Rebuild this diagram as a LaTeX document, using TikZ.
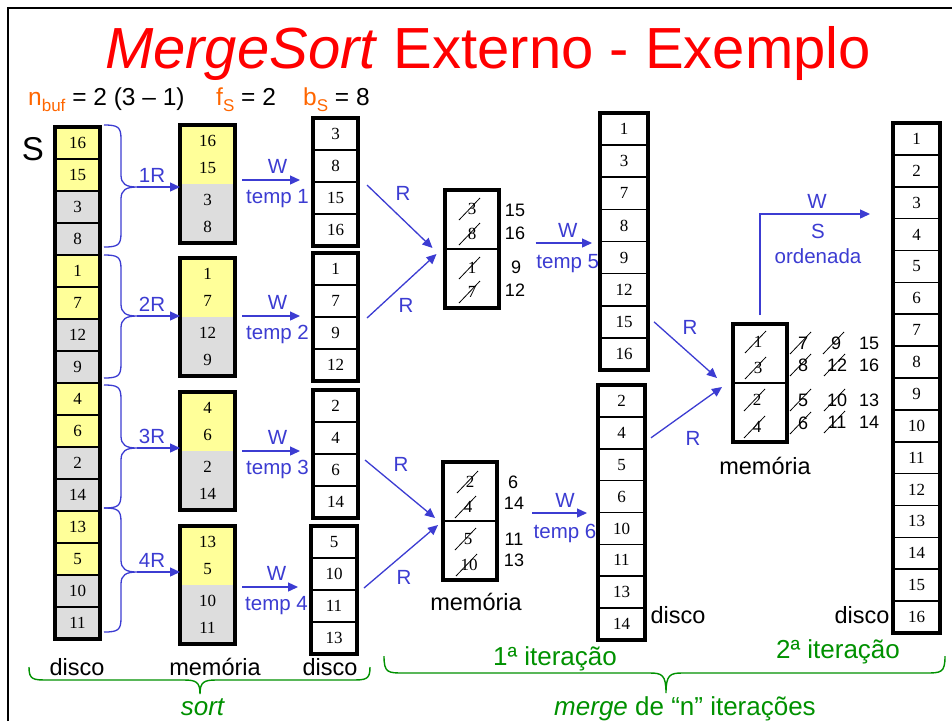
\documentclass[tikz,border=0pt]{standalone}
\usepackage{fontspec}
\setmainfont{Liberation Sans}
\newfontfamily\cellfont{Liberation Serif}
\usetikzlibrary{arrows.meta,calc}

\definecolor{titlered}{RGB}{255,0,0}
\definecolor{paramorange}{RGB}{255,102,0}
\definecolor{flowblue}{RGB}{60,60,210}
\definecolor{phasegreen}{RGB}{0,145,0}
\definecolor{bufyellow}{RGB}{255,255,153}
\definecolor{bufgray}{RGB}{221,221,221}

\tikzset{
  cellbox/.style={draw=black, line width=1.6pt, inner sep=0pt, outer sep=0pt,
    font=\cellfont\fontsize{17}{17}\selectfont},
  outerbox/.style={draw=black, line width=3.6pt},
  halfbox/.style={draw=none, inner sep=0pt, outer sep=0pt, minimum width=55pt,
    minimum height=59pt, align=center, font=\cellfont\fontsize{17}{27.5}\selectfont},
  mergebox/.style={draw=black, line width=2.2pt, inner sep=0pt, outer sep=0pt,
    minimum width=54pt, minimum height=59pt},
  innum/.style={inner sep=0pt, font=\cellfont\fontsize{17}{17}\selectfont},
  sidenum/.style={inner sep=0pt, font=\fontsize{18}{18}\selectfont},
  strikeline/.style={draw=black, line width=0.8pt},
  flow/.style={draw=flowblue, line width=1.3pt, -{Triangle[length=10pt,width=9pt]}},
  flowlabel/.style={text=flowblue, font=\fontsize{20.5}{24}\selectfont, inner sep=0pt},
  caption/.style={text=black, font=\fontsize{23.5}{26}\selectfont, inner sep=0pt, anchor=base},
  phaselabel/.style={text=phasegreen, font=\fontsize{26}{28}\selectfont, inner sep=0pt, anchor=base},
  paramtext/.style={anchor=base west, font=\fontsize{24.5}{28}\selectfont, inner sep=0pt},
  runbrace/.style={draw=flowblue, line width=1.3pt},
  phasebrace/.style={draw=phasegreen, line width=1.4pt},
}

% subscript used in the parameter line
\newcommand\psub[1]{\raisebox{-6pt}{\fontsize{17}{17}\selectfont #1}}

% a column of disk blocks: name, x centre, top, width, block height, values
\newcommand\diskcolumn[6]{%
  \foreach \v [count=\i] in {#6}{%
    \node[cellbox, minimum width=#4pt, minimum height=#5pt] (#1-\i) at (#2,{#3+(\i-0.5)*#5}) {\v};
    \xdef\lastcell{\i}%
  }%
  \draw[outerbox] (#1-1.north west) rectangle (#1-\lastcell.south east);
}

% sort-phase buffer: name, top, upper pair, lower pair
\newcommand\sortbuffer[4]{%
  \node[halfbox, fill=bufyellow] (#1t) at (207.5,{#2+29.5}) {#3};
  \node[halfbox, fill=bufgray] (#1b) at (207.5,{#2+88.5}) {#4};
  \draw[outerbox, line width=4pt] (#1t.north west) rectangle (#1b.south east);
}

% merge-phase buffer: name, x centre, top
\newcommand\mergebuffer[3]{%
  \node[mergebox] (#1t) at (#2,{#3+29.5}) {};
  \node[mergebox] (#1b) at (#2,{#3+88.5}) {};
  \draw[outerbox, line width=4pt] (#1t.north west) rectangle (#1b.south east);
}

% a consumed record is crossed out
\newcommand\struck[1]{\draw[strikeline] ($(#1.center)+(-13,11)$) -- ($(#1.center)+(8,-11)$);}

% brace grouping four blocks of S: name, top, bottom, tip
\newcommand\runbrace[4]{%
  \draw[runbrace] (104,#2) .. controls (118,#2) and (121,#2+2) .. (121,#2+14)
    -- (121,#4-12) .. controls (121,#4-3) and (126,#4) .. (137,#4)
    .. controls (126,#4) and (121,#4+3) .. (121,#4+12)
    -- (121,#3-14) .. controls (121,#3-2) and (118,#3) .. (104,#3);
  \coordinate (#1) at (137,#4);
}

% horizontal brace under a phase: left, right, end y, flat y, tip x, tip y
\newcommand\phasebrace[6]{%
  \draw[phasebrace] (#1,#3) .. controls (#1,#4) and (#1+4,#4) .. (#1+20,#4)
    -- (#5-16,#4) .. controls (#5-4,#4) and (#5,#4+2) .. (#5,#6)
    .. controls (#5,#4+2) and (#5+4,#4) .. (#5+16,#4)
    -- (#2-20,#4) .. controls (#2-4,#4) and (#2,#4) .. (#2,#3);
}

\begin{document}
\begin{tikzpicture}[x=1pt,y=-1pt]
\useasboundingbox (0,0) rectangle (952,721);
\fill[white] (0,0) rectangle (952,721);
\draw[line width=2pt] (8,721) -- (8,8) -- (952,8);

% heading and parameters
\node[anchor=base, text=titlered, font=\fontsize{58}{60}\selectfont, inner sep=0pt] (title)
  at (488,68) {\textit{MergeSort} Externo - Exemplo};
\node[paramtext] (pnbuf) at (28,105) {\textcolor{paramorange}{n\psub{buf}} = 2 (3 – 1)};
\node[paramtext] (pfs) at (216,105) {\textcolor{paramorange}{f\psub{S}} = 2};
\node[paramtext] (pbs) at (303,105) {\textcolor{paramorange}{b\psub{S}} = 8};
\node[anchor=base, font=\fontsize{33}{36}\selectfont, inner sep=0pt] (slabel) at (33,160) {S};

% input file S on disk
\foreach \v/\f [count=\i] in {16/bufyellow,15/bufyellow,3/bufgray,8/bufgray,
    1/bufyellow,7/bufyellow,12/bufgray,9/bufgray,4/bufyellow,6/bufyellow,2/bufgray,14/bufgray,
    13/bufyellow,5/bufyellow,10/bufgray,11/bufgray}
  \node[cellbox, fill=\f, minimum width=45pt, minimum height=32pt] (s-\i) at (77.5,{127+(\i-0.5)*32}) {\v};
\draw[outerbox] (s-1.north west) rectangle (s-16.south east);

\runbrace{b1}{125}{247}{187}
\runbrace{b2}{255}{378}{316}
\runbrace{b3}{385}{508}{448}
\runbrace{b4}{508}{632}{572}

% sort phase buffers
\sortbuffer{m1}{125}{16\\15}{3\\8}
\sortbuffer{m2}{258}{1\\7}{12\\9}
\sortbuffer{m3}{392}{4\\6}{2\\14}
\sortbuffer{m4}{526}{13\\5}{10\\11}

\draw[flow] (b1) -- (b1 -| m1t.west) node[flowlabel, pos=0.35, anchor=base, yshift=5pt] (l1r) {1R};
\draw[flow] (b2) -- (b2 -| m2t.west) node[flowlabel, pos=0.35, anchor=base, yshift=5pt] (l2r) {2R};
\draw[flow] (b3) -- (b3 -| m3t.west) node[flowlabel, pos=0.35, anchor=base, yshift=5pt] (l3r) {3R};
\draw[flow] (b4) -- (b4 -| m4t.west) node[flowlabel, pos=0.35, anchor=base, yshift=5pt] (l4r) {4R};

% sorted runs
\diskcolumn{r1}{335.5}{118}{45}{32}{3,8,15,16}
\diskcolumn{r2}{335.5}{253}{45}{32}{1,7,9,12}
\diskcolumn{r3}{335.5}{390}{45}{32}{2,4,6,14}
\diskcolumn{r4}{334}{526}{46}{32}{5,10,11,13}

\path ([shift={(7,-4)}]m1b.north east) coordinate (w1);
\path ([shift={(7,-1)}]m2b.north east) coordinate (w2);
\path ([shift={(7,0)}]m3b.north east) coordinate (w3);
\path ([shift={(7,2)}]m4b.north east) coordinate (w4);
\foreach \k in {1,2,3,4}{
  \draw[flow, shorten >=13pt] (w\k) -- (w\k -| r\k-1.west)
    node[flowlabel, midway, anchor=base, yshift=7pt] (lw\k) {W}
    node[flowlabel, midway, anchor=base, yshift=-23pt] (lt\k) {temp \k};
}

% first merge iteration
\mergebuffer{mm1}{471.5}{190}
\mergebuffer{mm2}{470}{462}

\node[innum] (a3) at (472,209) {3};  \struck{a3}
\node[innum] (a8) at (472,234) {8};  \struck{a8}
\node[innum] (a1) at (472,268) {1};  \struck{a1}
\node[innum] (a7) at (472,292) {7};  \struck{a7}
\node[sidenum] (a15) at (515,210) {15};
\node[sidenum] (a16) at (515,233) {16};
\node[sidenum] (a9)  at (516,267) {9};
\node[sidenum] (a12) at (515,290) {12};

\node[innum] (c2)  at (470,482) {2};  \struck{c2}
\node[innum] (c4)  at (468,507) {4};  \struck{c4}
\node[innum] (c5)  at (468,539) {5};  \struck{c5}
\node[innum] (c10) at (469,565) {10}; \struck{c10}
\node[sidenum] (c6)  at (513,482) {6};
\node[sidenum] (c14) at (514,503) {14};
\node[sidenum] (c11) at (514,539) {11};
\node[sidenum] (c13) at (514,560) {13};

\draw[flow] ([shift={(9,3)}]r1-2.south east) -- ([shift={(-12,-1)}]mm1t.south west);
\draw[flow] ([shift={(9,1)}]r2-2.south east) -- ([shift={(-8,5)}]mm1t.south west);
\draw[flow] ([shift={(7,6)}]r3-2.south east) -- ([shift={(-8,-3)}]mm2t.south west);
\draw[flow] ([shift={(7,-2)}]r4-2.south east) -- ([shift={(-5,4)}]mm2t.south west);
\node[flowlabel] (rl1) at (403,193) {R};
\node[flowlabel] (rl2) at (406,305) {R};
\node[flowlabel] (rl3) at (401,464) {R};
\node[flowlabel] (rl4) at (404,577) {R};
\node[caption] (mem1) at (476,610) {memória};

\diskcolumn{r5}{624}{113}{48}{32.125}{1,3,7,8,9,12,15,16}
\diskcolumn{r6}{621.5}{385}{47}{31.875}{2,4,5,6,10,11,13,14}

\path ([shift={(37,-6)}]mm1t.south east) coordinate (w5);
\path ([shift={(35,-8)}]mm2t.south east) coordinate (w6);
\draw[flow, shorten >=8pt] (w5) -- (w5 -| r5-1.west)
  node[flowlabel, midway, anchor=base, yshift=6pt] (lw5) {W}
  node[flowlabel, midway, anchor=base, yshift=-25pt] (lt5) {temp 5};
\draw[flow, shorten >=11pt] (w6) -- (w6 -| r6-1.west)
  node[flowlabel, midway, anchor=base, yshift=6pt] (lw6) {W}
  node[flowlabel, midway, anchor=base, yshift=-25pt] (lt6) {temp 6};
\node[caption] (disk6) at (678,623) {disco};

% second merge iteration
\mergebuffer{mm3}{760}{324}
\node[innum] (e1) at (758,342) {1}; \struck{e1}
\node[innum] (e3) at (758,368) {3}; \struck{e3}
\node[innum] (e2) at (757,400) {2}; \struck{e2}
\node[innum] (e4) at (757,427) {4}; \struck{e4}
\node[sidenum] (e7)  at (803,343) {7};  \struck{e7}
\node[sidenum] (e8)  at (803,365) {8};  \struck{e8}
\node[sidenum] (e5)  at (803,400) {5};  \struck{e5}
\node[sidenum] (e6)  at (803,423) {6};  \struck{e6}
\node[sidenum] (e9)  at (836,343) {9};  \struck{e9}
\node[sidenum] (e12) at (837,365) {12}; \struck{e12}
\node[sidenum] (e10) at (837,400) {10}; \struck{e10}
\node[sidenum] (e11) at (837,422) {11}; \struck{e11}
\node[sidenum] (e15) at (869,343) {15};
\node[sidenum] (e16) at (869,365) {16};
\node[sidenum] (e13) at (869,400) {13};
\node[sidenum] (e14) at (869,422) {14};

\draw[flow] ([shift={(6,0)}]r5-7.east) -- ([shift={(-16,-5)}]mm3t.south west);
\draw[flow] ([shift={(6,5)}]r6-2.east) -- ([shift={(-11,4)}]mm3t.south west);
\node[flowlabel] (rl5) at (690,327) {R};
\node[flowlabel] (rl6) at (693,438) {R};
\node[caption] (mem2) at (765,474) {memória};

\diskcolumn{fin}{916.5}{123}{47}{31.875}{1,2,3,4,5,6,7,8,9,10,11,12,13,14,15,16}
\node[caption] (diskf) at (862,623) {disco};

\coordinate (wsc) at ([yshift=110pt]mm3t.north);
\draw[flow, shorten <=9pt, shorten >=23pt] (mm3t.north) -- (wsc) -- (wsc -| fin-1.west);
\node[flowlabel, anchor=base] (lws) at (817,208) {W};
\node[flowlabel, anchor=base] (lss) at (818,238) {S};
\node[flowlabel, anchor=base] (lord) at (818,263) {ordenada};

% phase captions
\node[caption] (cap1) at (77,675) {disco};
\node[caption] (cap2) at (215,675) {memória};
\node[caption] (cap3) at (330,675) {disco};
\phasebrace{29}{370}{667}{680}{200}{694}
\phasebrace{384}{945}{656}{673}{666}{693}
\node[phaselabel] (it1) at (555,665) {1ª iteração};
\node[phaselabel] (it2) at (838,658) {2ª iteração};
\node[phaselabel] (psort) at (203,715) {\textit{sort}};
\node[phaselabel] (pmerge) at (685,715) {\textit{merge} de “n” iterações};
\end{tikzpicture}
\end{document}
